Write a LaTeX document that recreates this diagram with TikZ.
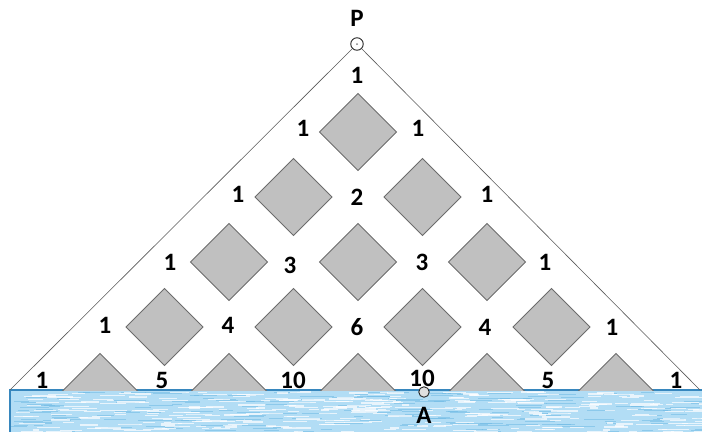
\documentclass[tikz,border=0pt]{standalone}
\usepackage{fontspec}
\setmainfont{Carlito}
\usetikzlibrary{calc,positioning}
\definecolor{waterblue}{RGB}{178,221,245}
\definecolor{waterdeep}{RGB}{110,185,228}
\definecolor{wateredge}{RGB}{55,135,190}
\definecolor{tilegray}{RGB}{192,192,192}

\begin{document}
\begin{tikzpicture}[x=1pt,y=-1pt,
  every node/.style={font=\fontsize{25}{28}\selectfont\bfseries},
  tile/.style={fill=tilegray, draw=gray!85!black, line width=0.8pt},
  pathnum/.style={inner sep=0pt},
  marker/.style={circle, draw=black!85, line width=0.9pt, inner sep=0pt, minimum size=#1}]
  \useasboundingbox (0,0) rectangle (702,432);
  % water below the base
  \begin{scope}
    \clip (10,390) rectangle (702,432);
    \fill[waterblue] (10,390) rectangle (702,432);
    \pgfmathsetseed{11}
    \foreach \i in {1,...,200}{
      \pgfmathsetmacro\sx{10+692*rnd}
      \pgfmathsetmacro\sy{392+40*rnd}
      \pgfmathsetmacro\sl{8+26*rnd}
      \draw[waterdeep, opacity=0.55, line width=1pt] (\sx,\sy) -- ++(\sl,0);
    }
    \foreach \i in {1,...,340}{
      \pgfmathsetmacro\sx{10+692*rnd}
      \pgfmathsetmacro\sy{392+40*rnd}
      \pgfmathsetmacro\sl{6+22*rnd}
      \draw[white, opacity=0.7, line width=1.2pt] (\sx,\sy) -- ++(\sl,0);
    }
  \end{scope}
  \draw[wateredge, line width=1.3pt] (10,432) -- (10,390) -- (702,390);
  % tiles, the bottom row cut by the base
  \begin{scope}
    \clip (0,0) rectangle (702,390);
    \foreach \r in {0,...,4}
      \foreach \c in {0,...,\r}{
        \pgfmathsetmacro\tx{358+129*(\c-\r/2)}
        \pgfmathsetmacro\ty{132+65*\r}
        \draw[tile] (\tx,\ty-38.5) -- (\tx+38.5,\ty) -- (\tx,\ty+38.5) -- (\tx-38.5,\ty) -- cycle;
      }
  \end{scope}
  % apex and sides
  \node[marker=12.5pt, fill=white] (P) at (357,44) {};
  \fill[gray] (P) circle (1pt);
  \node (Plabel) at (357,18) {P};
  \coordinate (BL) at (10,390);
  \coordinate (BR) at (700,390);
  \draw[gray!70!black, line width=0.6pt] (BL) -- (P) -- (BR);
  % point A on the base
  \node[marker=10.5pt, fill=gray!25] (A) at (424,392) {};
  \node (Alabel) at (424,415) {A};
  % number of paths at each gap
  \foreach \x/\y/\t [count=\k] in {
      357/75/1,
      303/128/1, 418/128/1,
      238/194/1, 357/197/2, 487/194/1,
      170/262/1, 290/265/3, 422/262/3, 545/262/1,
      105/325/1, 228/325/4, 357/327/6, 485/327/4, 612/327/1,
      42/380/1, 162/380/5, 293/380/10, 422/378/10, 548/380/5, 676/380/1}
    \node[pathnum] (n\k) at (\x,\y) {\t};
\end{tikzpicture}
\end{document}
